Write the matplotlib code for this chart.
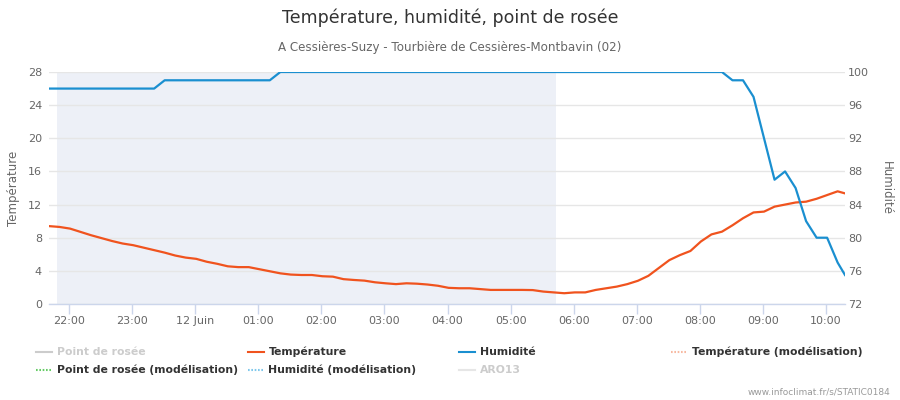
import datetime as dt
import matplotlib
matplotlib.use("Agg")
import matplotlib.pyplot as plt
import matplotlib.dates as mdates
from matplotlib.lines import Line2D
from matplotlib.ticker import FuncFormatter

# readings every 10 minutes from 21:41, last one at 10:18
start = dt.datetime(2019, 6, 11, 21, 41)
times = [start + dt.timedelta(minutes=10 * i) for i in range(76)]
times.append(dt.datetime(2019, 6, 12, 10, 18))

temperature = [
    9.4, 9.3, 9.1, 8.7, 8.3, 7.95, 7.6, 7.3, 7.1, 6.8,
    6.5, 6.2, 5.85, 5.6, 5.45, 5.1, 4.85, 4.55, 4.45, 4.45,
    4.2, 3.95, 3.7, 3.55, 3.5, 3.5, 3.35, 3.3, 3.0, 2.9,
    2.82, 2.62, 2.5, 2.4, 2.5, 2.45, 2.35, 2.2, 1.95, 1.9,
    1.9, 1.8, 1.7, 1.7, 1.7, 1.7, 1.68, 1.5, 1.4, 1.3,
    1.4, 1.4, 1.7, 1.9, 2.1, 2.4, 2.8, 3.4, 4.35, 5.3,
    5.9, 6.4, 7.55, 8.4, 8.73, 9.5, 10.35, 11.05, 11.15, 11.75,
    12.0, 12.25, 12.35, 12.7, 13.15, 13.6, 13.35,
]
humidity = ([98] * 11 + [99] * 11 + [100] * 43 +
            [99, 99, 97, 92, 87, 88, 86, 82, 80, 80, 77, 75.5])

night_start = dt.datetime(2019, 6, 11, 21, 49)
night_end = dt.datetime(2019, 6, 12, 5, 43)

temp_ticks = [0, 4, 8, 12, 16, 20, 24, 28]
hum_ticks = [72, 76, 80, 84, 88, 92, 96, 100]

legend_items = [
    ("Point de rosée", "#cccccc", "-", "#cccccc"),
    ("Température", "#f0531e", "-", "#333333"),
    ("Humidité", "#1a8fd0", "-", "#333333"),
    ("Température (modélisation)", "#f7b9a1", ":", "#333333"),
    ("Point de rosée (modélisation)", "#66cc66", ":", "#333333"),
    ("Humidité (modélisation)", "#7fc8ec", ":", "#333333"),
    ("ARO13", "#e6e6e6", "-", "#cccccc"),
]

W, H = 900, 400
fig = plt.figure(figsize=(9, 4), dpi=100)
ax = fig.add_axes([49 / W, 1 - 304 / H, (845 - 49) / W, (304 - 72) / H])
ax2 = ax.twinx()

ax.axvspan(night_start, night_end, color="#edf0f7", lw=0, zorder=0)
ax.plot(times, temperature, color="#f0531e", lw=1.6, zorder=3)
ax2.plot(times, humidity, color="#1a8fd0", lw=1.6, zorder=3)

ax.set_xlim(times[0], times[-1])
ax.set_ylim(0, 28)
ax2.set_ylim(72, 100)
ax.set_yticks(temp_ticks)
ax2.set_yticks(hum_ticks)

ax.yaxis.grid(True, color="#e6e6e6", lw=1)
ax.set_axisbelow(True)

for s in ["left", "right", "top"]:
    ax.spines[s].set_visible(False)
for s in ax2.spines.values():
    s.set_visible(False)
ax.spines["bottom"].set_color("#ccd6eb")
ax.spines["bottom"].set_linewidth(1)

ax.xaxis.set_major_locator(mdates.HourLocator())
ax.xaxis.set_major_formatter(FuncFormatter(
    lambda v, p: "12 Juin" if mdates.num2date(v).hour == 0 else mdates.num2date(v).strftime("%H:%M")))
ax.tick_params(axis="x", length=7, width=1, color="#ccd6eb", labelcolor="#666666",
               labelsize=8, pad=2)
ax.tick_params(axis="y", length=0, labelcolor="#666666", labelsize=8, pad=5)
ax2.tick_params(axis="y", length=0, labelcolor="#666666", labelsize=8, pad=2)

ax.set_ylabel("Température", color="#666666", fontsize=8.5)
ax.yaxis.set_label_coords((20 - 49) / 796, 0.5)
ax2.set_ylabel("Humidité", color="#666666", fontsize=8.5, rotation=270, va="center")
ax2.yaxis.set_label_coords((886 - 49) / 796, 0.5)

fig.text(0.5, 1 - 18 / H, "Température, humidité, point de rosée",
         ha="center", va="center", fontsize=12.5, color="#333333")
fig.text(0.5, 1 - 47 / H, "A Cessières-Suzy - Tourbière de Cessières-Montbavin (02)",
         ha="center", va="center", fontsize=8.6, color="#666666")

col_x = [36, 247.5, 459, 670.5]
row_y = [352, 370]
for k, (label, col, ls, tcol) in enumerate(legend_items):
    x0 = col_x[k % 4]
    y0 = row_y[k // 4]
    dash = (0, (0.8, 0.8)) if ls == ":" else "-"
    fig.add_artist(Line2D([x0 / W, (x0 + 16) / W], [1 - y0 / H, 1 - y0 / H],
                          color=col, lw=1.5, ls=dash, transform=fig.transFigure))
    fig.text((x0 + 21) / W, 1 - y0 / H, label, ha="left", va="center",
             fontsize=7.8, fontweight="bold", color=tcol)

fig.text(890 / W, 1 - 392 / H, "www.infoclimat.fr/s/STATIC0184",
         ha="right", va="center", fontsize=6.5, color="#999999")

fig.savefig("out.png", dpi=100)
